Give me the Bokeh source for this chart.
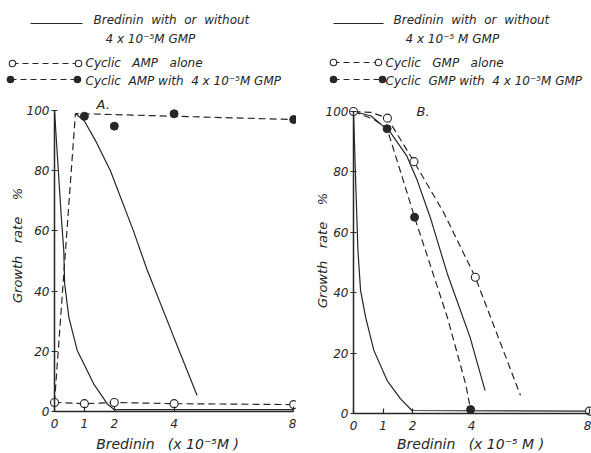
import math
from bokeh.plotting import figure
from bokeh.models import LinearAxis, FixedTicker, Label, Range1d
from bokeh.layouts import row
from bokeh.embed import file_html
from bokeh.resources import INLINE

# ---------------- data ----------------
x_ticks = [0, 1, 2, 4, 8]
y_ticks = [0, 20, 40, 60, 80, 100]

# Panel A
a_bred_x = [0, 0.22, 0.31, 0.34, 0.48, 0.76, 1.31, 1.76, 2.0, 8.0]
a_bred_y = [100, 65.7, 53.5, 42.4, 31.3, 20.3, 9.2, 2.6, 0.6, 0.6]
a_bredgmp_x = [0.7, 1.0, 1.37, 1.87, 2.64, 3.1, 3.99, 4.77]
a_bredgmp_y = [99, 96.5, 90, 80, 60, 47, 24.7, 5.3]
a_camp_x = [0, 1, 2, 4, 8]
a_camp_y = [3, 2.6, 3, 2.6, 2.3]
a_campgmp_x = [1, 2, 4, 8]
a_campgmp_y = [98.1, 94.8, 98.9, 97.0]
a_campgmp_line_x = [0, 0.7, 8]
a_campgmp_line_y = [3, 99, 97]

# Panel B
b_bred_x = [0, 0.08, 0.15, 0.24, 0.41, 0.69, 1.14, 1.59, 1.98, 8.0]
b_bred_y = [100, 75, 54, 40.7, 31.9, 20.9, 10.9, 4.9, 1.0, 0.8]
b_bredgmp_x = [0, 0.6, 1.25, 1.8, 2.16, 2.6, 3.18, 3.95, 4.46]
b_bredgmp_y = [100, 98.5, 93.1, 85.4, 77.2, 65, 46.3, 25.3, 7.6]
b_cgmp_x = [0, 1.15, 2.05, 4.13, 8]
b_cgmp_y = [100, 97.8, 83.4, 45.1, 0.8]
b_cgmp_line_x = [0, 0.6, 1.15, 2.05, 3.06, 4.13, 5.66]
b_cgmp_line_y = [100, 99.7, 97.8, 83.4, 66.5, 45.1, 6.0]
b_cgmpgmp_x = [1.14, 2.07, 3.97]
b_cgmpgmp_y = [94.3, 65, 1.3]
b_cgmpgmp_line_x = [0, 0.69, 1.14, 1.6, 2.07, 2.44, 3.18, 3.8, 3.97]
b_cgmpgmp_line_y = [100, 97.4, 94.3, 79.9, 65, 54, 31.9, 9.8, 1.3]

INK = "#262626"
FONT = "DejaVu Sans"
DASH = "7 4"
S = "\u00a0"   # non-breaking space (keeps the wide word spacing of the original)


def make_panel(width, x0px, xs, y0px, ys, img_off):
    H = 453
    p = figure(width=width, height=H,
               x_range=Range1d(-x0px / xs, (width - x0px) / xs),
               y_range=Range1d((y0px - H) / ys, y0px / ys),
               output_backend="svg", toolbar_location=None,
               x_axis_location=None, y_axis_location=None,
               min_border=0, min_border_left=0, min_border_right=0,
               min_border_top=0, min_border_bottom=0,
               outline_line_color=None, background_fill_color="white",
               border_fill_color="white")
    p.xgrid.visible = False
    p.ygrid.visible = False

    xa = LinearAxis(fixed_location=0, bounds=(0, 8), ticker=FixedTicker(ticks=x_ticks))
    ya = LinearAxis(fixed_location=0, bounds=(0, 100), ticker=FixedTicker(ticks=y_ticks))
    for ax in (xa, ya):
        ax.axis_line_color = INK
        ax.axis_line_width = 1.5
        ax.major_tick_line_color = INK
        ax.major_tick_line_width = 1.2
        ax.minor_tick_line_color = None
        ax.major_label_text_font = FONT
        ax.major_label_text_font_style = "italic"
        ax.major_label_text_font_size = "12px"
        ax.major_label_text_color = INK
    xa.major_tick_in = 5
    xa.major_tick_out = 0
    xa.major_label_standoff = 7
    ya.major_tick_in = 3
    ya.major_tick_out = 3
    ya.major_label_standoff = 2
    p.add_layout(xa, "below")
    p.add_layout(ya, "left")

    def d(px, py):
        # image pixel -> data coordinates of this panel
        return ((px - img_off - x0px) / xs, (y0px - py) / ys)

    return p, d


def label(p, d, px, py, text, size="12px", align="left", angle=0):
    x, y = d(px, py)
    p.add_layout(Label(x=x, y=y, text=text, text_font=FONT, text_font_style="italic",
                       text_font_size=size, text_color=INK, text_align=align,
                       text_baseline="middle", angle=angle, angle_units="deg"))


def legend(p, d, solid, openc, filled, texts):
    (sx0, sx1, sy) = solid
    x0, y0 = d(sx0, sy); x1, _ = d(sx1, sy)
    p.line([x0, x1], [y0, y0], line_color=INK, line_width=1.2)
    for (cx0, cx1, cy), fill in ((openc, "white"), (filled, INK)):
        a0, b0 = d(cx0, cy); a1, _ = d(cx1, cy)
        p.line([a0, a1], [b0, b0], line_color=INK, line_width=1.2, line_dash="6 4")
        p.scatter([a0, a1], [b0, b0], size=6.5, fill_color=fill, line_color=INK, line_width=1.1)
    for (px, py, t) in texts:
        label(p, d, px, py, t, size="12px")


# ---------------- Panel A ----------------
pA, dA = make_panel(296, 54, 29.9, 411, 3.01, 0)
pA.line(a_bred_x, a_bred_y, line_color=INK, line_width=1.2)
pA.line(a_bredgmp_x, a_bredgmp_y, line_color=INK, line_width=1.2)
pA.line(a_camp_x, a_camp_y, line_color=INK, line_width=1.2, line_dash=DASH)
pA.line(a_campgmp_line_x, a_campgmp_line_y, line_color=INK, line_width=1.2, line_dash=DASH)
pA.scatter(a_camp_x, a_camp_y, size=8, fill_color="white", line_color=INK, line_width=1.1)
pA.scatter(a_campgmp_x, a_campgmp_y, size=8, fill_color=INK, line_color=INK)

legend(pA, dA, (30, 82, 23), (12, 78, 63), (10, 77, 79),
       [(93, 19, f"Bredinin{S} with{S} or{S} without"),
        (105, 38, "4 x 10\u207b\u2075M GMP"),
        (85, 62, f"Cyclic{S}{S} AMP{S}{S} alone"),
        (85, 80, f"Cyclic{S} AMP with{S} 4 x 10\u207b\u2075M GMP")])
label(pA, dA, 96, 104, "A.", size="13px")
label(pA, dA, 167, 443, f"Bredinin{S}{S} (x{S}10\u207b\u2075M{S})", size="14px", align="center")
label(pA, dA, 17, 245, f"Growth{S}{S} rate{S}{S}{S} %", size="13px", align="center", angle=90)

# ---------------- Panel B ----------------
pB, dB = make_panel(295, 57, 29.5, 413, 3.02, 296)
pB.line(b_bred_x, b_bred_y, line_color=INK, line_width=1.2)
pB.line(b_bredgmp_x, b_bredgmp_y, line_color=INK, line_width=1.2)
pB.line(b_cgmp_line_x, b_cgmp_line_y, line_color=INK, line_width=1.2, line_dash=DASH)
pB.line(b_cgmpgmp_line_x, b_cgmpgmp_line_y, line_color=INK, line_width=1.2, line_dash=DASH)
pB.scatter(b_cgmp_x, b_cgmp_y, size=8, fill_color="white", line_color=INK, line_width=1.1)
pB.scatter(b_cgmpgmp_x, b_cgmpgmp_y, size=8, fill_color=INK, line_color=INK)

legend(pB, dB, (333, 383, 23), (333, 378, 62), (333, 382, 79),
       [(393, 19, f"Bredinin{S} with{S} or{S} without"),
        (405, 38, "4 x 10\u207b\u2075 M GMP"),
        (385, 62, f"Cyclic{S}{S} GMP{S}{S} alone"),
        (385, 80, f"Cyclic{S} GMP with{S} 4 x 10\u207b\u2075M GMP")])
label(pB, dB, 416, 111, "B.", size="13px")
label(pB, dB, 470, 443, f"Bredinin{S}{S} (x{S}10\u207b\u2075{S}M{S})", size="14px", align="center")
label(pB, dB, 322, 250, f"Growth{S}{S} rate{S}{S}{S} %", size="13px", align="center", angle=90)

layout = row(pA, pB, spacing=0)
open("out.html", "w").write(file_html(layout, INLINE))
